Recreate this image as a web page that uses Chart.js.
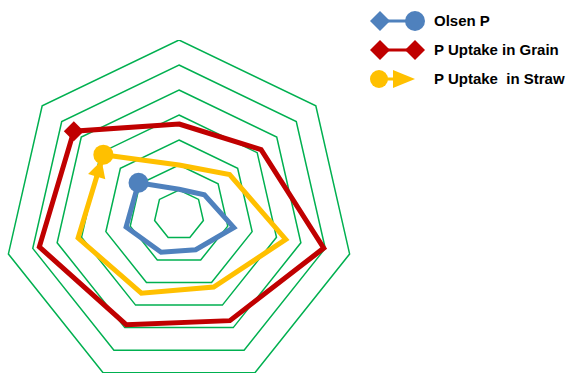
<!DOCTYPE html>
<html>
<head>
<meta charset="utf-8">
<script src="https://cdn.jsdelivr.net/npm/chart.js@4"></script>
<style>
  html, body { margin: 0; padding: 0; background: #fff; overflow: hidden; }
  body { width: 573px; height: 373px; position: relative; }
  #wrap { position: absolute; left: 4px; top: 40px; width: 350px; height: 350px; }
  #legend { position: absolute; left: 368px; top: 6px; font-family: "Liberation Sans", Arial, sans-serif; font-weight: bold; font-size: 15px; color: #000; }
  .row { display: flex; align-items: center; height: 29px; white-space: pre; }
  .row svg { margin-right: 8px; }
</style>
</head>
<body>
<div id="wrap"><canvas id="radarChart"></canvas></div>
<div id="legend"></div>
<script>
  // categories are not printed on the chart
  const categories = ['T1', 'T2', 'T3', 'T4', 'T5', 'T6', 'T7'];
  const olsenP = [10.3, 13, 22.5, 15.4, 16.5, 21.7, 20.7];
  const uptakeGrain = [36.4, 42, 59.4, 46.9, 48.7, 57.3, 53.8];
  const uptakeStraw = [20, 25.9, 43.8, 32, 34.7, 41.4, 38.7];
  const seriesNames = ['Olsen P', 'P Uptake in Grain', 'P Uptake  in Straw'];

  const blue = '#4F81BD', red = '#C00000', gold = '#FFC000', green = '#00B050';
  const last = categories.length - 1;

  // only the last point of each series carries a marker
  const onlyLast = r => ctx => ctx.dataIndex === last ? r : 0;

  const arrowPlugin = {
    id: 'arrowHead',
    afterDatasetsDraw(chart) {
      const pts = chart.getDatasetMeta(2).data;
      const a = pts[last - 1], b = pts[last];
      const dx = b.x - a.x, dy = b.y - a.y;
      const len = Math.hypot(dx, dy);
      const ux = dx / len, uy = dy / len;
      const tipX = b.x - ux * 6, tipY = b.y - uy * 6;
      const baseX = tipX - ux * 17, baseY = tipY - uy * 17;
      const c = chart.ctx;
      c.save();
      c.fillStyle = gold;
      c.beginPath();
      c.moveTo(tipX, tipY);
      c.lineTo(baseX - uy * 9, baseY + ux * 9);
      c.lineTo(baseX + uy * 9, baseY - ux * 9);
      c.closePath();
      c.fill();
      c.restore();
    }
  };

  const radarChart = new Chart(document.getElementById('radarChart'), {
    type: 'radar',
    data: {
      labels: categories,
      datasets: [{
        label: seriesNames[0],
        data: olsenP,
        borderColor: blue,
        backgroundColor: blue,
        borderWidth: 5,
        fill: false,
        pointStyle: 'circle',
        pointRadius: onlyLast(10),
        pointBorderWidth: 0,
        pointBackgroundColor: blue
      }, {
        label: seriesNames[1],
        data: uptakeGrain,
        borderColor: red,
        backgroundColor: red,
        borderWidth: 5,
        fill: false,
        pointStyle: 'rectRot',
        pointRadius: onlyLast(10),
        pointBorderWidth: 0,
        pointBackgroundColor: red
      }, {
        label: seriesNames[2],
        data: uptakeStraw,
        borderColor: gold,
        backgroundColor: gold,
        borderWidth: 5,
        fill: false,
        pointStyle: 'circle',
        pointRadius: onlyLast(10),
        pointBorderWidth: 0,
        pointBackgroundColor: gold
      }]
    },
    options: {
      responsive: true,
      maintainAspectRatio: false,
      animation: false,
      plugins: {
        legend: { display: false },
        tooltip: { enabled: false }
      },
      scales: {
        r: {
          min: 0,
          max: 70,
          ticks: { stepSize: 10, display: false },
          grid: { color: green, lineWidth: 1.5 },
          angleLines: { display: false },
          pointLabels: { display: false }
        }
      }
    },
    plugins: [arrowPlugin]
  });

  // legend icons: begin marker, line, end marker
  const icons = [
    '<polygon points="2,10 12,0 22,10 12,20" fill="' + blue + '"/><line x1="12" y1="10" x2="46" y2="10" stroke="' + blue + '" stroke-width="3"/><circle cx="47" cy="10" r="10" fill="' + blue + '"/>',
    '<polygon points="2,10 12,0 22,10 12,20" fill="' + red + '"/><line x1="12" y1="10" x2="46" y2="10" stroke="' + red + '" stroke-width="3"/><polygon points="37,10 47,0 57,10 47,20" fill="' + red + '"/>',
    '<circle cx="11" cy="10" r="9" fill="' + gold + '"/><line x1="11" y1="10" x2="30" y2="10" stroke="' + gold + '" stroke-width="3"/><polygon points="25,1 47,10 25,19" fill="' + gold + '"/>'
  ];
  const legend = document.getElementById('legend');
  seriesNames.forEach((name, i) => {
    const row = document.createElement('div');
    row.className = 'row';
    row.innerHTML = '<svg width="58" height="20" viewBox="0 0 58 20">' + icons[i] + '</svg><span>' + name + '</span>';
    legend.appendChild(row);
  });
</script>
</body>
</html>
